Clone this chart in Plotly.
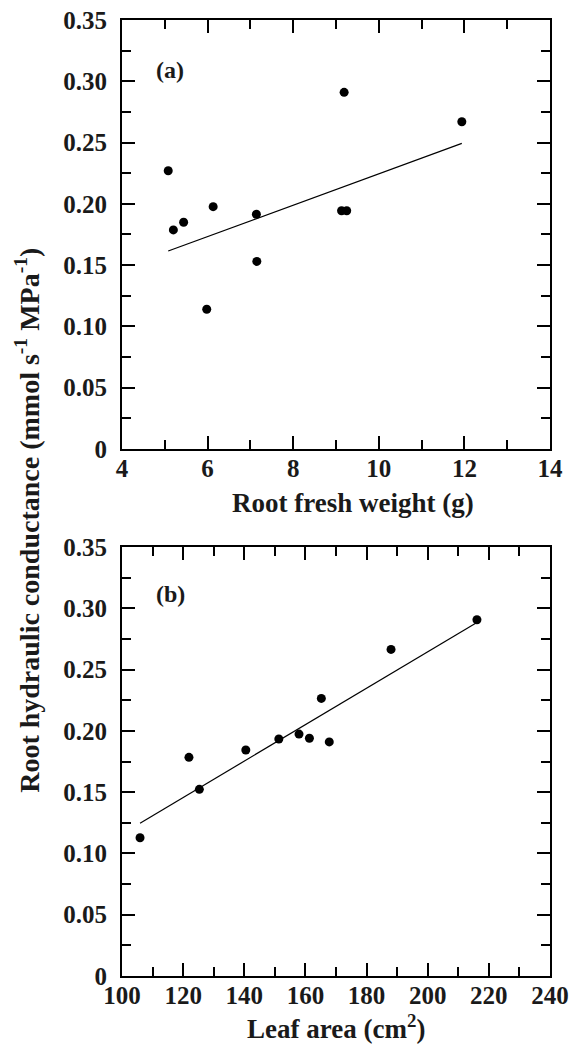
import numpy as np
import plotly.graph_objects as go
from plotly.subplots import make_subplots

# Panel (a): root fresh weight (g) vs root hydraulic conductance
root_fw = [5.08, 5.20, 5.44, 5.98, 6.13, 7.14, 7.15, 9.13, 9.19, 9.25, 11.94]
cond_a = [0.227, 0.1787, 0.185, 0.114, 0.1977, 0.1915, 0.153, 0.1944, 0.291, 0.1944, 0.267]
# regression line as drawn in the figure: slope, intercept
fit_a = [0.01281, 0.0964]

# Panel (b): leaf area (cm2) vs root hydraulic conductance
leaf_area = [105.9, 121.9, 125.3, 140.5, 151.3, 157.9, 161.3, 165.2, 167.8, 188.0, 216.1]
cond_b = [0.1128, 0.1784, 0.1523, 0.1844, 0.1934, 0.1974, 0.194, 0.2265, 0.191, 0.2665, 0.2907]
fit_b = [0.001486, -0.0327]

x_ticks_a = [4, 6, 8, 10, 12, 14]
x_ticks_b = [100, 120, 140, 160, 180, 200, 220, 240]
y_ticks = [0, 0.05, 0.10, 0.15, 0.20, 0.25, 0.30, 0.35]
y_labels = ["0", "0.05", "0.10", "0.15", "0.20", "0.25", "0.30", "0.35"]

FONT = "Liberation Serif"
INK = "#1a1a1a"

fig = make_subplots(rows=2, cols=1, vertical_spacing=0.1026)

def add_panel(xs, ys, fit, row):
    fig.add_trace(go.Scatter(x=xs, y=ys, mode="markers",
                             marker=dict(color="black", size=9, symbol="circle"),
                             showlegend=False), row=row, col=1)
    k, b = fit
    lx = np.array([min(xs), max(xs)])
    fig.add_trace(go.Scatter(x=lx, y=k * lx + b, mode="lines",
                             line=dict(color="black", width=1.2),
                             showlegend=False), row=row, col=1)

add_panel(root_fw, cond_a, fit_a, 1)
add_panel(leaf_area, cond_b, fit_b, 2)

tickfont = dict(family=FONT, size=25, color=INK, weight="bold")
titlefont = dict(family=FONT, size=27, color=INK, weight="bold")
minor_common = dict(ticks="inside", ticklen=9, tickwidth=1.5, tickcolor="black")

axis_common = dict(showline=True, linecolor="black", linewidth=2, mirror="ticks",
                   ticks="inside", ticklen=13, tickwidth=1.5, tickcolor="black",
                   showgrid=False, zeroline=False, tickfont=tickfont, automargin=False)

fig.update_xaxes(**axis_common)
fig.update_yaxes(**axis_common)

fig.update_xaxes(range=[4, 14], tickvals=x_ticks_a,
                 minor=dict(dtick=1, tick0=4, **minor_common),
                 ticklabelstandoff=-4, row=1, col=1)
fig.update_xaxes(range=[100, 240], tickvals=x_ticks_b,
                 minor=dict(dtick=10, tick0=100, **minor_common),
                 ticklabelstandoff=-4, row=2, col=1)

for r in (1, 2):
    fig.update_yaxes(range=[0, 0.35], tickvals=y_ticks, ticktext=y_labels,
                     minor=dict(dtick=0.025, tick0=0, **minor_common),
                     ticklabelstandoff=8, row=r, col=1)

fig.update_layout(
    width=572, height=1044,
    margin=dict(l=122, r=22, t=20, b=68, autoexpand=False),
    plot_bgcolor="white", paper_bgcolor="white",
    font=dict(family=FONT, color=INK),
    xaxis=dict(domain=[0, 1]), yaxis=dict(domain=[0.5513, 1.0]),
    yaxis2=dict(domain=[0.0, 0.4487]),
)

fig.add_annotation(text="Root fresh weight (g)", xref="paper", yref="paper",
                   x=0.54, y=0.4945, xanchor="center", yanchor="middle", showarrow=False,
                   font=titlefont)
fig.add_annotation(text="Leaf area (cm<sup>2</sup>)", xref="paper", yref="paper",
                   x=0.5, y=-0.0535, xanchor="center", yanchor="middle", showarrow=False,
                   font=titlefont)
fig.add_annotation(text="(a)", xref="x domain", yref="y domain", x=0.075, y=0.883,
                   xanchor="left", yanchor="middle", showarrow=False,
                   font=dict(family=FONT, size=24, color=INK, weight="bold"))
fig.add_annotation(text="(b)", xref="x2 domain", yref="y2 domain", x=0.075, y=0.89,
                   xanchor="left", yanchor="middle", showarrow=False,
                   font=dict(family=FONT, size=24, color=INK, weight="bold"))
fig.add_annotation(text="Root hydraulic conductance (mmol s<sup>-1</sup> MPa<sup>-1</sup>)",
                   xref="paper", yref="paper", x=-0.22, y=0.477,
                   xanchor="center", yanchor="middle", textangle=-90, showarrow=False,
                   font=dict(family=FONT, size=28, color=INK, weight="bold"))

fig.write_html("out.html", config={"displayModeBar": False},
               post_script="document.body.style.margin='0';")
